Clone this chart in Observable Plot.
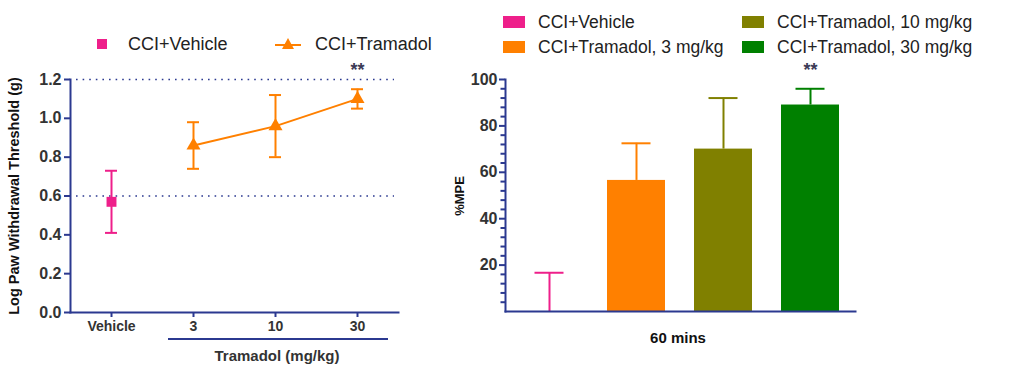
<!DOCTYPE html>
<html>
<head>
<meta charset="utf-8">
<script src="https://cdn.jsdelivr.net/npm/d3@7"></script>
<script src="https://cdn.jsdelivr.net/npm/@observablehq/plot@0.6"></script>
<style>
  html, body { margin: 0; padding: 0; background: #fff; }
  #root { position: relative; width: 1024px; height: 367px; overflow: hidden; font-family: "Liberation Sans", Arial, sans-serif; }
  .abs { position: absolute; white-space: nowrap; line-height: 1.2; }
  .chart { position: absolute; top: 0; }
</style>
</head>
<body>
<div id="root"></div>
<script>
// ---------- data: left panel ----------
const doseGroups = ["Vehicle", "3", "10", "30"];
const thresholdMean = [0.57, 0.86, 0.96, 1.10];
const thresholdLow  = [0.41, 0.74, 0.80, 1.05];
const thresholdHigh = [0.73, 0.98, 1.12, 1.15];
const thresholdRefs = [1.2, 0.6];
const leftTicks = [0, 0.2, 0.4, 0.6, 0.8, 1.0, 1.2];

// ---------- data: right panel ----------
const barGroups = ["CCI+Vehicle", "CCI+Tramadol, 3 mg/kg", "CCI+Tramadol, 10 mg/kg", "CCI+Tramadol, 30 mg/kg"];
const mpeMean = [0, 56.5, 70, 89];
const mpeHigh = [16.7, 72.5, 92, 96];
const barColors = ["#ee1f8a", "#ff8000", "#808000", "#008000"];
const rightTicks = [20, 40, 60, 80, 100];
const rightMinorTicks = [4, 8, 12, 16, 24, 28, 32, 36, 44, 48, 52, 56, 64, 68, 72, 76, 84, 88, 92, 96];

const NAVY = "#2b3990";
const TXT = "#333";
const PINK = barColors[0], ORANGE = barColors[1];
const FONT = "'Liberation Sans', Arial, sans-serif";

const root = document.getElementById("root");
function addText(txt, left, top, style) {
  const d = document.createElement("div");
  d.className = "abs";
  d.textContent = txt;
  d.style.left = left + "px";
  d.style.top = top + "px";
  Object.assign(d.style, style || {});
  root.appendChild(d);
  return d;
}
function addBox(left, top, w, h, style) {
  const d = document.createElement("div");
  d.style.position = "absolute";
  d.style.left = left + "px"; d.style.top = top + "px";
  d.style.width = w + "px"; d.style.height = h + "px";
  Object.assign(d.style, style || {});
  root.appendChild(d);
  return d;
}

// ---------- left panel ----------
const leftRows = doseGroups.map((g, i) => ({g, mean: thresholdMean[i], lo: thresholdLow[i], hi: thresholdHigh[i]}));
const vehRows = leftRows.filter(d => d.g === "Vehicle");
const tramRows = leftRows.filter(d => d.g !== "Vehicle");
const grpColor = d => d.g === "Vehicle" ? PINK : ORANGE;

const left = Plot.plot({
  width: 418, height: 367,
  marginTop: 79, marginBottom: 55, marginLeft: 70, marginRight: 20,
  x: {type: "point", domain: doseGroups, padding: 0.5},
  y: {domain: [0, 1.2]},
  style: {fontFamily: FONT, overflow: "visible", background: "transparent"},
  marks: [
    Plot.ruleY(thresholdRefs, {stroke: NAVY, strokeWidth: 1.6, strokeDasharray: "1.6,5", insetLeft: 6, insetRight: 4}),
    Plot.frame({anchor: "left", stroke: NAVY, strokeWidth: 2}),
    Plot.frame({anchor: "bottom", stroke: NAVY, strokeWidth: 2}),
    Plot.axisY(leftTicks, {tickSize: 6, tickPadding: 3, tickFormat: d3.format(".1f"), stroke: NAVY, strokeWidth: 2, fill: TXT, fontSize: 16, fontWeight: "bold", label: null}),
    Plot.axisX({tickSize: 5, tickPadding: 4, stroke: NAVY, strokeWidth: 2, fill: TXT, fontSize: 14, fontWeight: "bold", label: null}),
    Plot.line(tramRows, {x: "g", y: "mean", stroke: ORANGE, strokeWidth: 2}),
    Plot.ruleX(leftRows, {x: "g", y1: "lo", y2: "hi", stroke: grpColor, strokeWidth: 2}),
    Plot.ruleY(leftRows, {x1: "g", x2: "g", y: "lo", insetLeft: -6, insetRight: -6, stroke: grpColor, strokeWidth: 2}),
    Plot.ruleY(leftRows, {x1: "g", x2: "g", y: "hi", insetLeft: -6, insetRight: -6, stroke: grpColor, strokeWidth: 2}),
    Plot.dot(vehRows, {x: "g", y: "mean", symbol: "square", r: 5.6, fill: PINK, stroke: "none"}),
    Plot.dot(tramRows, {x: "g", y: "mean", symbol: "triangle", r: 5.2, fill: ORANGE, stroke: "none"}),
    Plot.text([{g: "30", y: 1.2}], {x: "g", y: "y", text: () => "**", dy: -9, fontSize: 18, fontWeight: "bold", fill: "#3a3a55"})
  ]
});
left.classList.add("chart");
left.style.left = "0px";
root.appendChild(left);

// left y label
const lyl = addText("Log Paw Withdrawal Threshold (g)", 0, 0, {fontSize: "14.5px", color: "#111", fontWeight: "600"});
lyl.style.left = "15px"; lyl.style.top = "196px";
lyl.style.transform = "translate(-50%, -50%) rotate(-90deg)";

// bracket under tramadol doses
addBox(168, 338, 220, 2, {background: NAVY});
const tl = addText("Tramadol (mg/kg)", 277, 356, {fontSize: "15px", fontWeight: "bold", color: TXT});
tl.style.transform = "translate(-50%, -50%)";

// left legend
addBox(97, 39, 10, 10, {background: PINK});
addText("CCI+Vehicle", 128, 33.5, {fontSize: "18px", color: "#222"});
addBox(275, 44, 26, 2, {background: ORANGE});
const tri = document.createElementNS("http://www.w3.org/2000/svg", "svg");
tri.setAttribute("width", "14"); tri.setAttribute("height", "14");
tri.style.position = "absolute"; tri.style.left = "281px"; tri.style.top = "37px";
tri.innerHTML = `<path d="M7,1 L13,12 L1,12 Z" fill="${ORANGE}"/>`;
root.appendChild(tri);
addText("CCI+Tramadol", 315, 33.5, {fontSize: "18px", color: "#222"});

// ---------- right panel ----------
const barRows = barGroups.map((g, i) => ({g, mean: mpeMean[i], hi: mpeHigh[i]}));
const RW = 400, RML = 45, RMR = 5;
const frameW = RW - RML - RMR;

const right = Plot.plot({
  width: RW, height: 367,
  marginTop: 79, marginBottom: 56, marginLeft: RML, marginRight: RMR,
  x: {type: "band", domain: barGroups, paddingInner: 0.33, paddingOuter: 0.165, axis: null},
  y: {domain: [0, 100]},
  color: {domain: barGroups, range: barColors},
  style: {fontFamily: FONT, overflow: "visible", background: "transparent"},
  marks: [
    Plot.barY(barRows, {x: "g", y: "mean", fill: "g"}),
    Plot.ruleX(barRows, {x: "g", y1: "mean", y2: "hi", stroke: "g", strokeWidth: 2}),
    Plot.tickY(barRows, {x: "g", y: "hi", stroke: "g", strokeWidth: 2, insetLeft: 14.5, insetRight: 14.5}),
    Plot.ruleY(rightMinorTicks, {stroke: NAVY, strokeWidth: 2, insetLeft: -4.5, insetRight: frameW}),
    Plot.frame({anchor: "left", stroke: NAVY, strokeWidth: 2}),
    Plot.frame({anchor: "bottom", stroke: NAVY, strokeWidth: 2}),
    Plot.axisY(rightTicks, {tickSize: 6, tickPadding: 2, stroke: NAVY, strokeWidth: 2, fill: TXT, fontSize: 16, fontWeight: "bold", label: null}),
    Plot.text([{g: barGroups[3], y: 100}], {x: "g", y: "y", text: () => "**", dy: -9, fontSize: 18, fontWeight: "bold", fill: "#3a3a55"})
  ]
});
right.classList.add("chart");
right.style.left = "460px";
root.appendChild(right);

// right labels
const ryl = addText("%MPE", 0, 0, {fontSize: "13px", fontWeight: "bold", color: "#111"});
ryl.style.left = "460px"; ryl.style.top = "196px";
ryl.style.transform = "translate(-50%, -50%) rotate(-90deg)";
const xl = addText("60 mins", 678, 338, {fontSize: "15px", fontWeight: "bold", color: "#111"});
xl.style.transform = "translate(-50%, -50%)";

// right legend
const legPos = [[503, 22], [503, 47], [742, 22], [742, 47]];
legPos.forEach(([x, y], i) => {
  addBox(x, y - 6, 22, 12, {background: barColors[i]});
  addText(barGroups[i], x + 35, y - 10.5, {fontSize: "17.5px", color: "#222"});
});
</script>
</body>
</html>
